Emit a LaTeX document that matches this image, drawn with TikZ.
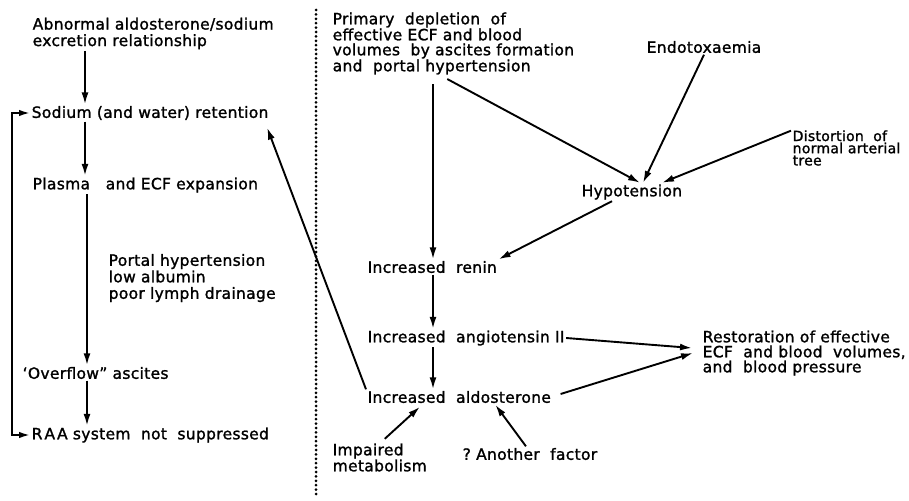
\documentclass[tikz,border=0pt]{standalone}
\usepackage{fontspec}
\newfontfamily\dv[FakeBold=1.4,LetterSpace=2]{DejaVu Sans}
\usetikzlibrary{arrows.meta}
\begin{document}
\begin{tikzpicture}[x=1pt,y=-1pt,
  txt/.style={font=\dv\fontsize{15.5}{16.5}\selectfont, inner sep=1.5pt, anchor=west, align=left},
  tight/.style={font=\dv\fontsize{15.5}{15}\selectfont},
  small/.style={font=\dv\fontsize{14}{12.2}\selectfont},
  arr/.style={line width=1.9pt, -{Latex[length=12pt,width=7pt]}},
  arrb/.style={line width=1.9pt, {Latex[length=11pt,width=6.5pt]}-{Latex[length=11pt,width=6.5pt]}},
  divider/.style={line width=3pt, line cap=round, dash pattern=on 0pt off 4.4pt}]
\useasboundingbox (0,0) rectangle (909,500);
% left column
\node[txt] (abn) at (31,33.5) {Abnormal aldosterone/sodium\\excretion relationship};
\node[txt] (sod) at (30,113) {Sodium (and water) retention};
\node[txt] (pla) at (31,185) {Plasma\ \ \ and ECF expansion};
\node[txt] (por) at (107,278) {Portal hypertension\\low albumin\\poor lymph drainage};
\node[txt] (ovf) at (21,373) {‘Overflow” ascites};
\node[txt] (raa) at (30,435) {R\kern2pt A\kern2pt A\ system\ \ not\ \ suppressed};
\coordinate (lx) at (85,0);
\coordinate (lx2) at (87,0);
\coordinate (fb) at (12,0);
\draw[arr] (abn.south -| lx) -- (sod.north -| lx);
\draw[arr] (sod.south -| lx) -- (pla.north -| lx);
\draw[arr] (pla.south -| lx2) -- (ovf.north -| lx2);
\draw[arr] (ovf.south -| lx2) -- (raa.north -| lx2);
\draw[arrb] (sod.west) -- (sod.west -| fb) -- (raa.west -| fb) -- (raa.west);
% divider
\coordinate (d1) at (316,10);
\coordinate (d2) at (316,497);
\draw[divider] (d1) -- (d2);
% right column
\node[txt,tight] (pri) at (331,43.5) {Primary\ \ depletion\ \ of\\effective\ ECF and blood\\volumes\ \ by ascites formation\\and\ \ portal\ hypertension};
\node[txt] (endo) at (645,47) {Endotoxaemia};
\node[txt,small] (dist) at (791,148) {Distortion\ \ of\\normal arterial\\tree};
\node[txt] (hyp) at (580,192) {Hypotension};
\node[txt] (ren) at (366,267) {Increased\ \ renin};
\node[txt] (ang) at (366,338) {Increased\ \ angiotensin\ II};
\node[txt] (ald) at (366,397) {Increased\ \ aldosterone};
\node[txt,tight] (res) at (701,353) {Restoration of effective\\ECF\ \ and blood\ \ volumes,\\and\ \ blood pressure};
\node[txt,tight] (imp) at (331,457.5) {Impaired\\metabolism};
\node[txt] (ano) at (461,454) {?\ Another\ \ factor};
\coordinate (rx) at (433,0);
\coordinate (rx2) at (442,0);
\coordinate (hx1) at (640,0);
\coordinate (hx2) at (643,0);
\coordinate (hx3) at (662,0);
\coordinate (hx4) at (612,0);
\draw[arr, shorten <=8pt] (pri.south -| rx) -- (ren.north -| rx);
\draw[arr] (ren.south -| rx) -- (ang.north -| rx);
\draw[arr] (ang.south -| rx) -- (ald.north -| rx);
\draw[arr, shorten <=6pt] (pri.south -| rx2) -- (hyp.north -| hx1);
\draw[arr] (endo.south) -- (hyp.north -| hx2);
\draw[arr] ([yshift=-2pt]dist.north west) -- (hyp.north -| hx3);
\draw[arr] (hyp.south -| hx4) -- (ren.north east);
\draw[arr] (ang.east) -- ([xshift=-9pt,yshift=5pt]res.west);
\draw[arr] ([xshift=8pt,yshift=3pt]ald.east) -- ([xshift=-8pt]res.west);
\draw[arr] ([xshift=5pt,yshift=3pt]imp.north) -- ([xshift=54pt,yshift=-2pt]ald.south west);
\draw[arr] ([xshift=-4pt]ano.north) -- ([xshift=36pt]ald.south);
\draw[arr] (ald.north west) -- ([xshift=-3pt,yshift=-6pt]sod.south east);
\end{tikzpicture}
\end{document}
